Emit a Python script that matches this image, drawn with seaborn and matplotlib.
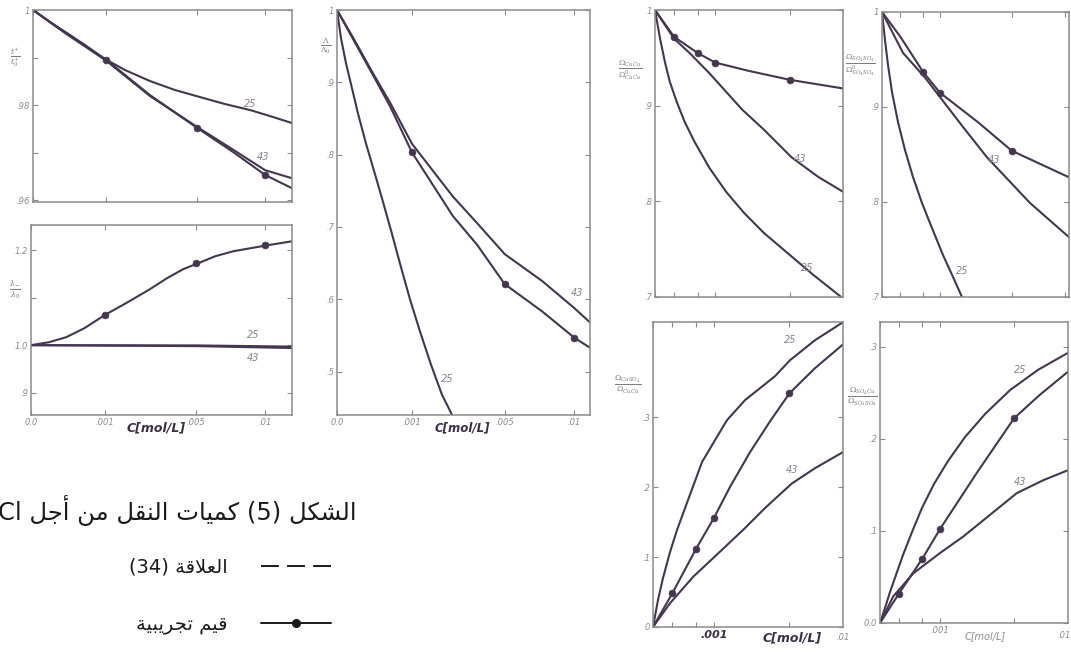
import numpy as np
import pandas as pd
import matplotlib
matplotlib.use("Agg")
import matplotlib.pyplot as plt
import seaborn as sns
from matplotlib.lines import Line2D

# ---------------- data (c in mol/L) ----------------
# panel A : t+/t+0
A_C25 = [0, 5.37e-5, 2.148e-4, 5.02e-4, 9.63e-4, 1.5725e-3, 2.543e-3, 3.746e-3,
         5.18e-3, 6.849e-3, 8.749e-3, 1.0436e-2, 1.2462e-2]
A_V25 = [1.0, 0.99747, 0.99516, 0.99263, 0.98968, 0.98737, 0.98505, 0.98316,
         0.98168, 0.98021, 0.97895, 0.97768, 0.97621]
A_C43 = [0, 0.000215, 0.001, 0.00254, 0.005, 0.0075, 0.01, 0.01246]
A_V43 = [1.0, 0.9949, 0.9893, 0.9819, 0.9754, 0.9705, 0.9663, 0.9646]
A_CEXP = [0, 0.000215, 0.001, 0.00254, 0.005, 0.0075, 0.01, 0.01246]
A_VEXP = [1.0, 0.9949, 0.9895, 0.9821, 0.9752, 0.9700, 0.9653, 0.9625]
A_CPTS = [0.001, 0.005, 0.01]
A_VPTS = [0.9895, 0.9752, 0.9653]

# panel B : lambda/lambda0
B_CEXP = [0, 6.0e-5, 2.276e-4, 5.22e-4, 9.90e-4, 1.712e-3, 2.587e-3, 3.386e-3,
          4.236e-3, 5.12e-3, 6.222e-3, 7.506e-3, 8.829e-3, 1.026e-2, 1.246e-2]
B_VEXP = [1.0, 1.0063, 1.0168, 1.0358, 1.0632, 1.0905, 1.1179, 1.1411,
          1.16, 1.1726, 1.1874, 1.1979, 1.2042, 1.2105, 1.2187]
B_C25 = [0, 0.005, 0.01246]
B_V25 = [1.0, 0.9995, 0.997]
B_C43 = [0, 0.005, 0.01246]
B_V43 = [1.0, 0.998, 0.994]
B_CPTS = [0.001, 0.005, 0.01]
B_VPTS = [1.063, 1.173, 1.21]

# panel C : Lambda/Lambda0
C_C25 = [0, 2.84e-6, 1.44e-5, 4.0e-5, 7.84e-5, 1.495e-4, 2.433e-4, 3.761e-4,
         5.377e-4, 7.28e-4, 9.47e-4, 1.224e-3, 1.570e-3, 1.959e-3, 2.351e-3]
C_V25 = [1.0, 0.9611, 0.9264, 0.8917, 0.8569, 0.8153, 0.7778, 0.7347,
         0.6903, 0.6444, 0.60, 0.5556, 0.5097, 0.4681, 0.4403]
C_CEXP = [0, 0.0000455, 0.00023, 0.0005, 0.001, 0.00239, 0.0035, 0.005, 0.0075, 0.01, 0.01138]
C_VEXP = [1.0, 0.96, 0.91, 0.867, 0.803, 0.715, 0.675, 0.621, 0.583, 0.547, 0.533]
C_C43 = [0, 0.0000455, 0.00023, 0.0005, 0.001, 0.00239, 0.0035, 0.005, 0.0075, 0.01, 0.01138]
C_V43 = [1.0, 0.962, 0.9125, 0.872, 0.815, 0.742, 0.705, 0.6625, 0.625, 0.588, 0.568]
C_CPTS = [0.001, 0.005, 0.01]
C_VPTS = [0.803, 0.621, 0.547]

# panel D : Omega_CuCu / Omega0_CuCu
D_CEXP = [0, 0.0001, 0.0005, 0.001, 0.002425, 0.005, 0.0097]
D_VEXP = [1.0, 0.972, 0.955, 0.945, 0.9363, 0.927, 0.918]
D_C43 = [0, 0.0001, 0.000329, 0.00081, 0.00208, 0.00325, 0.00512, 0.00732, 0.0097]
D_V43 = [1.0, 0.970, 0.955, 0.934, 0.896, 0.875, 0.846, 0.8255, 0.81]
D_C25 = [0, 6.7e-6, 2.69e-5, 6.05e-5, 1.30e-4, 2.42e-4, 4.30e-4, 8.13e-4,
         1.393e-3, 2.177e-3, 3.252e-3, 4.898e-3, 6.88e-3, 9.50e-3]
D_V25 = [1.0, 0.9707, 0.9457, 0.9248, 0.9039, 0.8830, 0.8621, 0.8349,
         0.8098, 0.7879, 0.7670, 0.7450, 0.7231, 0.7001]
D_CPTS = [0.0001, 0.0005, 0.001, 0.005]
D_VPTS = [0.972, 0.955, 0.945, 0.927]

# panel E : Omega_SO4SO4 / Omega0_SO4SO4
E_CEXP = [0, 0.0001, 0.0005, 0.001, 0.00274, 0.005, 0.0104]
E_VEXP = [1.0, 0.974, 0.937, 0.915, 0.884, 0.854, 0.826]
E_C43 = [0, 0.000131, 0.00055, 0.00195, 0.00328, 0.00651, 0.0104]
E_V43 = [1.0, 0.957, 0.931, 0.879, 0.847, 0.799, 0.763]
E_C25 = [0, 2.68e-6, 1.07e-5, 2.97e-5, 7.61e-5, 1.573e-4, 2.857e-4, 4.757e-4,
         7.43e-4, 1.106e-3, 1.499e-3, 1.903e-3]
E_V25 = [1.0, 0.9705, 0.9442, 0.9158, 0.8842, 0.8547, 0.8263, 0.7989,
         0.7726, 0.7442, 0.7211, 0.70]
E_CPTS = [0.0005, 0.001, 0.005]
E_VPTS = [0.937, 0.915, 0.854]

# panel F : Omega_CuSO4 / Omega_CuCu
F_C25 = [0, 6.7e-6, 2.69e-5, 7.77e-5, 1.548e-4, 3.29e-4, 6.45e-4, 1.033e-3,
         1.472e-3, 2.275e-3, 3.077e-3, 4.0e-3, 5.044e-3, 7.053e-3, 9.70e-3]
F_V25 = [0, 0.0386, 0.070, 0.107, 0.1386, 0.1814, 0.2357, 0.2671,
         0.2957, 0.3243, 0.3414, 0.3586, 0.3814, 0.41, 0.4357]
F_CEXP = [0, 0.0001, 0.0005, 0.001, 0.00159, 0.00253, 0.00368, 0.005, 0.00705, 0.0097]
F_VEXP = [0, 0.048, 0.112, 0.156, 0.20, 0.25, 0.294, 0.334, 0.37, 0.404]
F_C43 = [0, 0.0000777, 0.000437, 0.001033, 0.00219, 0.00337, 0.00517, 0.00705, 0.0097]
F_V43 = [0, 0.034, 0.072, 0.101, 0.139, 0.17, 0.205, 0.227, 0.25]
F_CPTS = [0.0001, 0.0005, 0.001, 0.005]
F_VPTS = [0.048, 0.112, 0.156, 0.334]

# panel G : Omega_SO4Cu / Omega_SO4SO4
G_C25 = [0, 6.95e-6, 2.78e-5, 7.11e-5, 1.47e-4, 2.85e-4, 4.90e-4, 8.10e-4,
         1.285e-3, 2.008e-3, 3.064e-3, 4.696e-3, 6.937e-3, 9.82e-3]
G_V25 = [0, 0.0163, 0.0337, 0.0522, 0.0739, 0.0989, 0.125, 0.151,
         0.176, 0.202, 0.227, 0.253, 0.275, 0.2935]
G_CEXP = [0, 0.0001, 0.0005, 0.001, 0.0026, 0.005, 0.00711, 0.00982]
G_VEXP = [0, 0.032, 0.070, 0.102, 0.163, 0.2225, 0.248, 0.273]
G_C43 = [0, 0.0000493, 0.000309, 0.001, 0.00193, 0.00519, 0.00738, 0.00982]
G_V43 = [0, 0.029, 0.054, 0.076, 0.094, 0.141, 0.155, 0.166]
G_CPTS = [0.0001, 0.0005, 0.001, 0.005]
G_VPTS = [0.032, 0.070, 0.102, 0.2225]

# tick labels
X_TICKS_LEFT = [0, 0.001, 0.005, 0.01]
X_LABELS_LEFT = ["0.0", ".001", ".005", ".01"]
X_TICKS_RIGHT = [0, 0.0001, 0.0005, 0.001, 0.005, 0.01]
X_LABELS_RIGHT = ["", "", "", ".001", "", ""]

TITLE = "الشكل (5) كميات النقل من أجل Cl"
LEGEND_LABELS = ["العلاقة (34)", "قيم تجريبية"]
XLABEL = "C[mol/L]"

# ---------------- minimal Arabic shaping for display ----------------
FORMS = {
    "\u0627": ("\uFE8D", "\uFE8E", None, None),
    "\u0623": ("\uFE83", "\uFE84", None, None),
    "\u0628": ("\uFE8F", "\uFE90", "\uFE91", "\uFE92"),
    "\u0629": ("\uFE93", "\uFE94", None, None),
    "\u062A": ("\uFE95", "\uFE96", "\uFE97", "\uFE98"),
    "\u062C": ("\uFE9D", "\uFE9E", "\uFE9F", "\uFEA0"),
    "\u0631": ("\uFEAD", "\uFEAE", None, None),
    "\u0634": ("\uFEB5", "\uFEB6", "\uFEB7", "\uFEB8"),
    "\u0639": ("\uFEC9", "\uFECA", "\uFECB", "\uFECC"),
    "\u0642": ("\uFED5", "\uFED6", "\uFED7", "\uFED8"),
    "\u0643": ("\uFED9", "\uFEDA", "\uFEDB", "\uFEDC"),
    "\u0644": ("\uFEDD", "\uFEDE", "\uFEDF", "\uFEE0"),
    "\u0645": ("\uFEE1", "\uFEE2", "\uFEE3", "\uFEE4"),
    "\u0646": ("\uFEE5", "\uFEE6", "\uFEE7", "\uFEE8"),
    "\u064A": ("\uFEF1", "\uFEF2", "\uFEF3", "\uFEF4"),
}
LAM_ALEF = {"\u0627": ("\uFEFB", "\uFEFC"), "\u0623": ("\uFEF7", "\uFEF8")}


def _dual(ch):
    return ch in FORMS and FORMS[ch][2] is not None


def shape_word(w):
    out, i, n = [], 0, len(w)
    while i < n:
        ch = w[i]
        cprev = i > 0 and _dual(w[i - 1])
        if ch == "\u0644" and i + 1 < n and w[i + 1] in LAM_ALEF:
            out.append(LAM_ALEF[w[i + 1]][1 if cprev else 0])
            i += 2
            continue
        if ch not in FORMS:
            out.append(ch)
            i += 1
            continue
        iso, fin, ini, med = FORMS[ch]
        cnext = ini is not None and i + 1 < n and w[i + 1] in FORMS
        if cprev and cnext:
            out.append(med)
        elif cprev:
            out.append(fin)
        elif cnext:
            out.append(ini)
        else:
            out.append(iso)
        i += 1
    return "".join(out)


def visual(s):
    vis = []
    for w in s.split(" "):
        if any(c in FORMS for c in w):
            vis.append(shape_word(w)[::-1])
        else:
            vis.append(w)
    return " ".join(reversed(vis))


# ---------------- style ----------------
sns.set_theme(style="white")
plt.rcParams["font.family"] = ["DejaVu Sans"]
plt.rcParams["mathtext.fontset"] = "dejavuserif"

LINE = "#45364f"
FRAME = "#8a8a8a"
TICKC = "#8c8c8c"
LABC = "#8a7f90"

W, H = 1071, 653
fig = plt.figure(figsize=(W / 100, H / 100), dpi=100)


def px_axes(x0, y0, x1, y1):
    return fig.add_axes([x0 / W, 1 - y1 / H, (x1 - x0) / W, (y1 - y0) / H])


def fwd(x):
    return np.sqrt(np.clip(x, 0, None))


def inv(x):
    return np.square(x)


def curve(ax, c, v):
    df = pd.DataFrame({"c": c, "v": v})
    sns.lineplot(data=df, x="c", y="v", ax=ax, color=LINE, lw=1.5,
                 sort=False, estimator=None)


def pts(ax, c, v):
    sns.scatterplot(x=c, y=v, ax=ax, color=LINE, s=24, edgecolor=LINE,
                    linewidth=0.5, zorder=5)


def setup(ax, xt, xl, xmax, yt, yl, ylim):
    ax.set_xscale("function", functions=(fwd, inv))
    ax.set_xticks(xt)
    ax.set_xticklabels(xl)
    ax.set_yticks(yt)
    ax.set_yticklabels(yl)
    ax.set_xlim(0, xmax)
    ax.set_ylim(*ylim)
    ax.set_xlabel("")
    ax.set_ylabel("")
    ax.tick_params(direction="in", length=3.5, width=0.8, color=FRAME,
                   labelsize=6, labelcolor=TICKC, pad=2,
                   top=True, right=True, bottom=True, left=True)
    for lb in ax.get_xticklabels() + ax.get_yticklabels():
        lb.set_fontstyle("italic")
    for s in ax.spines.values():
        s.set_color(FRAME)
        s.set_linewidth(1.1)


def lab(ax, x, y, t):
    ax.text(x, y, t, transform=ax.transAxes, fontsize=7, color=LABC,
            style="italic", ha="center", va="center")


# Panel A
axA = px_axes(33, 10, 292, 202)
curve(axA, A_C25, A_V25)
curve(axA, A_C43, A_V43)
curve(axA, A_CEXP, A_VEXP)
pts(axA, A_CPTS, A_VPTS)
setup(axA, X_TICKS_LEFT, ["", "", "", ""], 0.01246,
      [0.96, 0.97, 0.98, 0.99, 1.0], [".96", "", ".98", "", "1"], (0.9596, 1.0))
lab(axA, 0.84, 0.51, "25")
lab(axA, 0.89, 0.235, "43")

# Panel B
axB = px_axes(31, 225, 292, 415)
curve(axB, B_C25, B_V25)
curve(axB, B_C43, B_V43)
curve(axB, B_CEXP, B_VEXP)
pts(axB, B_CPTS, B_VPTS)
setup(axB, X_TICKS_LEFT, X_LABELS_LEFT, 0.01246,
      [0.9, 1.0, 1.1, 1.2], [".9", "1.0", "", "1.2"], (0.853, 1.253))
lab(axB, 0.85, 0.42, "25")
lab(axB, 0.85, 0.30, "43")

# Panel C
axC = px_axes(337, 10, 590, 415)
curve(axC, C_C25, C_V25)
curve(axC, C_C43, C_V43)
curve(axC, C_CEXP, C_VEXP)
pts(axC, C_CPTS, C_VPTS)
setup(axC, X_TICKS_LEFT, X_LABELS_LEFT, 0.01138,
      [0.5, 0.6, 0.7, 0.8, 0.9, 1.0], [".5", ".6", ".7", ".8", ".9", "1"], (0.44, 1.0))
lab(axC, 0.95, 0.30, "43")
lab(axC, 0.435, 0.09, "25")

# Panel D
axD = px_axes(655, 10, 843, 297)
curve(axD, D_C25, D_V25)
curve(axD, D_C43, D_V43)
curve(axD, D_CEXP, D_VEXP)
pts(axD, D_CPTS, D_VPTS)
setup(axD, X_TICKS_RIGHT, [""] * 6, 0.0097,
      [0.7, 0.8, 0.9, 1.0], [".7", ".8", ".9", "1"], (0.7, 1.0))
lab(axD, 0.77, 0.48, "43")
lab(axD, 0.81, 0.10, "25")

# Panel E
axE = px_axes(882, 12, 1069, 297)
curve(axE, E_C25, E_V25)
curve(axE, E_C43, E_V43)
curve(axE, E_CEXP, E_VEXP)
pts(axE, E_CPTS, E_VPTS)
setup(axE, X_TICKS_RIGHT, [""] * 6, 0.0104,
      [0.7, 0.8, 0.9, 1.0], [".7", ".8", ".9", "1"], (0.7, 1.0))
lab(axE, 0.60, 0.48, "43")
lab(axE, 0.43, 0.09, "25")

# Panel F
axF = px_axes(653, 322, 843, 627)
curve(axF, F_C25, F_V25)
curve(axF, F_C43, F_V43)
curve(axF, F_CEXP, F_VEXP)
pts(axF, F_CPTS, F_VPTS)
setup(axF, X_TICKS_RIGHT, X_LABELS_RIGHT, 0.0097,
      [0, 0.1, 0.2, 0.3], ["0", ".1", ".2", ".3"], (0, 0.436))
for lb in axF.get_xticklabels():
    lb.set_color("#3b2f48")
    lb.set_fontsize(8)
    lb.set_fontweight("bold")
lab(axF, 0.72, 0.94, "25")
lab(axF, 0.73, 0.515, "43")

# Panel G
axG = px_axes(880, 322, 1068, 623)
curve(axG, G_C25, G_V25)
curve(axG, G_C43, G_V43)
curve(axG, G_CEXP, G_VEXP)
pts(axG, G_CPTS, G_VPTS)
setup(axG, X_TICKS_RIGHT, X_LABELS_RIGHT, 0.00982,
      [0, 0.1, 0.2, 0.3], ["0.0", ".1", ".2", ".3"], (0, 0.327))
lab(axG, 0.745, 0.84, "25")
lab(axG, 0.745, 0.47, "43")


def ftxt(x, y, t, **kw):
    fig.text(x / W, 1 - y / H, t, **kw)


# right-edge ".01" labels on F and G
ftxt(843, 637, ".01", fontsize=6, color=TICKC, style="italic", ha="center", va="center")
ftxt(1064, 636, ".01", fontsize=6, color=TICKC, style="italic", ha="center", va="center")

# x-axis titles (handwritten in original)
ftxt(156, 428, XLABEL, fontsize=9, color="#3b2f48", style="italic", weight="bold",
     ha="center", va="center")
ftxt(462, 428, XLABEL, fontsize=8.5, color="#3b2f48", style="italic", weight="bold",
     ha="center", va="center")
ftxt(792, 638, XLABEL, fontsize=9, color="#3b2f48", style="italic", weight="bold",
     ha="center", va="center")
ftxt(985, 636, XLABEL, fontsize=7, color=TICKC, style="italic", ha="center", va="center")

# y-axis fraction labels
YL = dict(fontsize=8, color="#7d7d7d", ha="center", va="center")
ftxt(15, 58, r"$\frac{t^{+}}{t^{+}_{0}}$", **YL)
ftxt(15, 290, r"$\frac{\lambda_{-}}{\lambda_{0}}$", **YL)
ftxt(326, 46, r"$\frac{\Lambda}{\Lambda_{0}}$", **YL)
ftxt(630, 70, r"$\frac{\Omega_{CuCu}}{\Omega_{CuCu}^{0}}$", **YL)
ftxt(860, 65, r"$\frac{\Omega_{SO_4SO_4}}{\Omega_{SO_4SO_4}^{0}}$", **YL)
ftxt(628, 385, r"$\frac{\Omega_{CuSO_4}}{\Omega_{CuCu}}$", **YL)
ftxt(862, 397, r"$\frac{\Omega_{SO_4Cu}}{\Omega_{SO_4SO_4}}$", **YL)

# Arabic caption and legend
ftxt(357, 511, visual(TITLE), fontsize=17.5, color="#1a1a1a", ha="right", va="center")
handles = [
    Line2D([], [], color="#1a1a1a", lw=1.4, linestyle=(0, (9.2, 4.2))),
    Line2D([], [], color="#1a1a1a", lw=1.4, marker="o", markersize=5.5),
]
fig.legend(handles=handles, labels=[visual(t) for t in LEGEND_LABELS],
           loc="upper right", bbox_to_anchor=(348 / W, 1 - 540 / H),
           frameon=False, markerfirst=False, fontsize=14, handlelength=3.6,
           handletextpad=1.7, labelspacing=1.95, numpoints=1,
           labelcolor="#1a1a1a")

fig.savefig("out.png", dpi=100, facecolor="white")
